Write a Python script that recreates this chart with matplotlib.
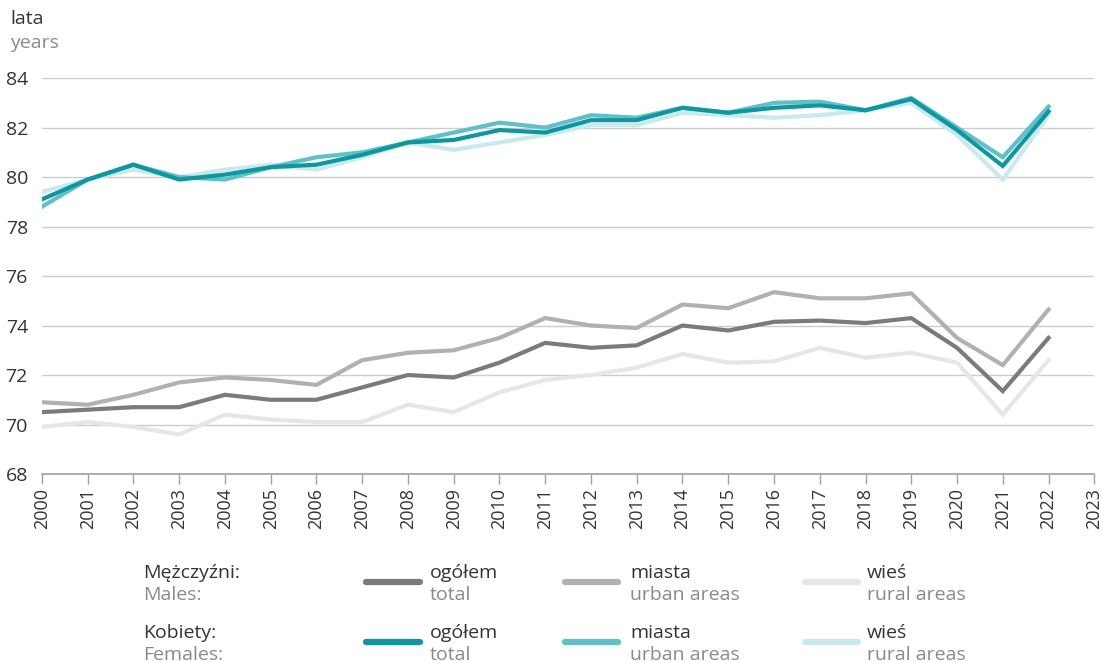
import matplotlib

matplotlib.use("Agg")
from matplotlib import pyplot as plt
from matplotlib.lines import Line2D

plt.rcParams["font.family"] = ["Liberation Sans Narrow", "Open Sans", "DejaVu Sans"]

years = list(range(2000, 2023))

males_total = [70.5, 70.6, 70.7, 70.7, 71.2, 71.0, 71.0, 71.5, 72.0, 71.9, 72.5, 73.3,
               73.1, 73.2, 74.0, 73.8, 74.15, 74.2, 74.1, 74.3, 73.1, 71.35, 73.5]
males_urban = [70.9, 70.8, 71.2, 71.7, 71.9, 71.8, 71.6, 72.6, 72.9, 73.0, 73.5, 74.3,
               74.0, 73.9, 74.85, 74.7, 75.35, 75.1, 75.1, 75.3, 73.5, 72.4, 74.65]
males_rural = [69.9, 70.1, 69.9, 69.6, 70.4, 70.2, 70.1, 70.1, 70.8, 70.5, 71.3, 71.8,
               72.0, 72.3, 72.85, 72.5, 72.55, 73.1, 72.7, 72.9, 72.5, 70.4, 72.6]

females_total = [79.1, 79.9, 80.5, 79.9, 80.1, 80.4, 80.5, 80.9, 81.4, 81.5, 81.9, 81.8,
                 82.3, 82.3, 82.8, 82.6, 82.8, 82.9, 82.7, 83.15, 81.9, 80.45, 82.65]
females_urban = [78.8, 79.9, 80.5, 80.0, 79.9, 80.4, 80.8, 81.0, 81.4, 81.8, 82.2, 82.0,
                 82.5, 82.4, 82.8, 82.6, 83.0, 83.05, 82.7, 83.2, 82.0, 80.8, 82.85]
females_rural = [79.4, 79.9, 80.3, 80.0, 80.3, 80.5, 80.3, 80.8, 81.4, 81.1, 81.4, 81.7,
                 82.1, 82.1, 82.6, 82.5, 82.4, 82.5, 82.7, 83.0, 81.7, 79.9, 82.5]

y_ticks = [68, 70, 72, 74, 76, 78, 80, 82, 84]
x_ticks = list(range(2000, 2024))

c_m_total, c_m_urban, c_m_rural = "#7b7b7b", "#b1b1b1", "#e6e6e6"
c_f_total, c_f_urban, c_f_rural = "#0a98a1", "#5fc0c8", "#c9eaec"
text_dark = "#333333"
text_grey = "#8a8a8a"
lw = 3.0

fig = plt.figure(figsize=(11.02, 6.62), dpi=100)
fig.patch.set_facecolor("white")
ax = fig.add_axes([0.038, 0.284, 0.955, 0.598])

series = [
    (males_rural, c_m_rural),
    (males_urban, c_m_urban),
    (males_total, c_m_total),
    (females_rural, c_f_rural),
    (females_urban, c_f_urban),
    (females_total, c_f_total),
]
for values, color in series:
    ax.plot(years, values, color=color, linewidth=lw, solid_joinstyle="miter", zorder=3)

ax.set_xlim(2000, 2023)
ax.set_ylim(68, 84)
ax.set_yticks(y_ticks)
ax.set_xticks(x_ticks)
ax.set_xticklabels([str(x) for x in x_ticks], rotation=90, fontsize=13, color=text_dark)
ax.set_yticklabels([str(y) for y in y_ticks], fontsize=14, color=text_dark)
ax.tick_params(axis="y", length=0, pad=10)
ax.tick_params(axis="x", length=7, width=1.0, color="#a0a0a0", direction="out", pad=3)
ax.grid(axis="y", color="#cccccc", linewidth=1.0, zorder=0)
for side in ("top", "right", "left"):
    ax.spines[side].set_visible(False)
ax.spines["bottom"].set_color("#a0a0a0")
ax.spines["bottom"].set_linewidth(1.2)

fig.text(0.009, 0.972, "lata", fontsize=14, color=text_dark, ha="left", va="center")
fig.text(0.009, 0.935, "years", fontsize=14, color=text_grey, ha="left", va="center")

# legend built by hand
rows = [
    ("Mężczyźni:", "Males:", [c_m_total, c_m_urban, c_m_rural], 1 - 573 / 662),
    ("Kobiety:", "Females:", [c_f_total, c_f_urban, c_f_rural], 1 - 633 / 662),
]
cols = [
    (366 / 1102, 420 / 1102, 430 / 1102, "ogółem", "total"),
    (565 / 1102, 618 / 1102, 630 / 1102, "miasta", "urban areas"),
    (805 / 1102, 858 / 1102, 867 / 1102, "wieś", "rural areas"),
]
row_gap = 22 / 662
for pl, en, colors, y0 in rows:
    fig.text(143 / 1102, y0, pl, fontsize=14, color=text_dark, ha="left", va="center")
    fig.text(143 / 1102, y0 - row_gap, en, fontsize=14, color=text_grey, ha="left", va="center")
    for (x0, x1, xt, lab_pl, lab_en), color in zip(cols, colors):
        yl = y0 - 9 / 662
        fig.add_artist(Line2D([x0, x1], [yl, yl], color=color, linewidth=4.5,
                              solid_capstyle="round", transform=fig.transFigure))
        fig.text(xt, y0, lab_pl, fontsize=14, color=text_dark, ha="left", va="center")
        fig.text(xt, y0 - row_gap, lab_en, fontsize=14, color=text_grey, ha="left", va="center")

fig.savefig("out.png", dpi=100)
